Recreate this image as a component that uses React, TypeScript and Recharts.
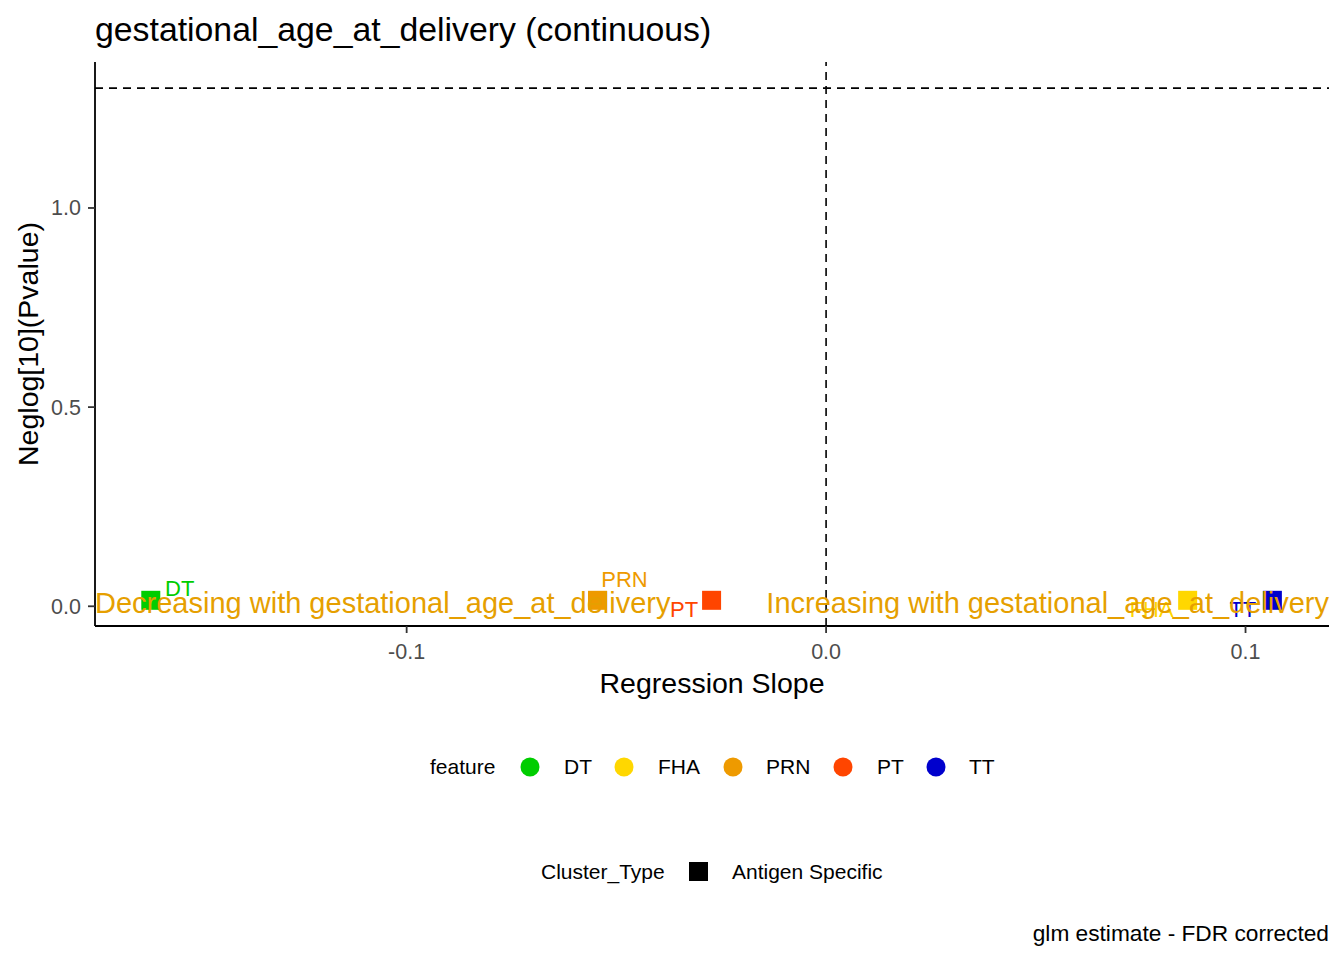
import React from 'react';
import { ScatterChart, Scatter, XAxis, YAxis, ReferenceLine } from 'recharts';

const FONT = '"Liberation Sans", Arial, Helvetica, sans-serif';

// ---- data ----
const features = ['DT', 'FHA', 'PRN', 'PT', 'TT'];
const slopes = [-0.161, 0.0862, -0.0545, -0.0273, 0.1064];
const negLogP = [0.015, 0.015, 0.015, 0.015, 0.015];
const featureColors = ['#00CD00', '#FFD700', '#EE9A00', '#FF4500', '#0000CD'];
const clusterTypes = ['Antigen Specific'];
const xTicks = [-0.1, 0.0, 0.1];
const yTicks = [0.0, 0.5, 1.0];
const significance = 1.30103; // -log10(0.05)
const xDomain = [-0.1743, 0.1199];
const yDomain = [-0.0495, 1.3665];

// label placement (repelled text offsets, px)
const labelOffsets: Record<string, [number, number]> = {
  DT: [29, -4],
  FHA: [-36, 17],
  PRN: [27, -13],
  PT: [-27.5, 17],
  TT: [-29.5, 17],
};

const points = features.map((f, i) => ({
  feature: f,
  slope: slopes[i],
  nlp: negLogP[i],
  color: featureColors[i],
}));

const XTick = (props: any) => {
  const { x, y, payload } = props;
  return (
    <text x={x} y={y + 25.5} textAnchor="middle" fontFamily={FONT} fontSize={21.5} fill="#4D4D4D">
      {Number(payload.value).toFixed(1)}
    </text>
  );
};

const YTick = (props: any) => {
  const { x, y, payload } = props;
  return (
    <text x={x} y={y + 7.5} textAnchor="end" fontFamily={FONT} fontSize={21.5} fill="#4D4D4D">
      {Number(payload.value).toFixed(1)}
    </text>
  );
};

const renderPoint = (props: any) => {
  const { cx, cy, payload } = props;
  if (cx == null || cy == null) return <g />;
  const [dx, dy] = labelOffsets[payload.feature] || [0, 0];
  return (
    <g>
      <rect x={cx - 9.5} y={cy - 9.5} width={19} height={19} fill={payload.color} />
      <text x={cx + dx} y={cy + dy} textAnchor="middle" fontFamily={FONT} fontSize={22} fill={payload.color}>
        {payload.feature}
      </text>
    </g>
  );
};

const legendCircleX = [530, 624, 733, 843, 936];
const legendLabelX = [564, 658, 766, 877, 969];

export default function App() {
  return (
    <div style={{ position: 'absolute', left: 0, top: 0, width: 1344, height: 960, background: '#fff' }}>
      <ScatterChart width={1344} height={960} margin={{ top: 62, right: 15, bottom: 274, left: 15 }}>
        <XAxis
          type="number"
          dataKey="slope"
          domain={xDomain}
          allowDataOverflow
          ticks={xTicks}
          interval={0}
          height={60}
          tickSize={7}
          tickMargin={0}
          tick={XTick}
          axisLine={{ stroke: '#000', strokeWidth: 1.8 }}
          tickLine={{ stroke: '#333', strokeWidth: 1.8 }}
        />
        <YAxis
          type="number"
          dataKey="nlp"
          domain={yDomain}
          allowDataOverflow
          ticks={yTicks}
          interval={0}
          width={80}
          tickSize={7}
          tickMargin={7}
          tick={YTick}
          axisLine={{ stroke: '#000', strokeWidth: 1.8 }}
          tickLine={{ stroke: '#333', strokeWidth: 1.8 }}
        />
        <ReferenceLine y={significance} stroke="#000" strokeWidth={1.6} strokeDasharray="8 6" />
        <ReferenceLine x={0} stroke="#000" strokeWidth={1.6} strokeDasharray="8 6" />
        <Scatter data={points} shape={renderPoint} isAnimationActive={false} />
      </ScatterChart>
      <svg
        width={1344}
        height={960}
        style={{ position: 'absolute', left: 0, top: 0, pointerEvents: 'none' }}
        fontFamily={FONT}
      >
        {/* annotations */}
        <text x={95} y={613} fontSize={29} fill="#E69F00" textAnchor="start">
          Decreasing with gestational_age_at_delivery
        </text>
        <text x={1329} y={613} fontSize={29} fill="#E69F00" textAnchor="end">
          Increasing with gestational_age_at_delivery
        </text>
        {/* title */}
        <text x={95} y={41} fontSize={33.8} fill="#000">
          gestational_age_at_delivery (continuous)
        </text>
        {/* axis titles */}
        <text x={712} y={693} fontSize={28.5} fill="#000" textAnchor="middle">
          Regression Slope
        </text>
        <text x={38} y={344} fontSize={28.5} fill="#000" textAnchor="middle" transform="rotate(-90 38 344)">
          Neglog[10](Pvalue)
        </text>
        {/* legend: feature */}
        <text x={430} y={774} fontSize={21} fill="#000">feature</text>
        {features.map((f, i) => (
          <g key={f}>
            <circle cx={legendCircleX[i]} cy={767} r={9.5} fill={featureColors[i]} />
            <text x={legendLabelX[i]} y={774} fontSize={21} fill="#000">{f}</text>
          </g>
        ))}
        {/* legend: cluster type */}
        <text x={541} y={878.5} fontSize={21} fill="#000">Cluster_Type</text>
        {clusterTypes.map((c) => (
          <g key={c}>
            <rect x={689} y={862} width={19} height={19} fill="#000" />
            <text x={732} y={878.5} fontSize={21} fill="#000">{c}</text>
          </g>
        ))}
        {/* caption */}
        <text x={1329} y={941} fontSize={22.7} fill="#000" textAnchor="end">
          glm estimate - FDR corrected
        </text>
      </svg>
    </div>
  );
}
